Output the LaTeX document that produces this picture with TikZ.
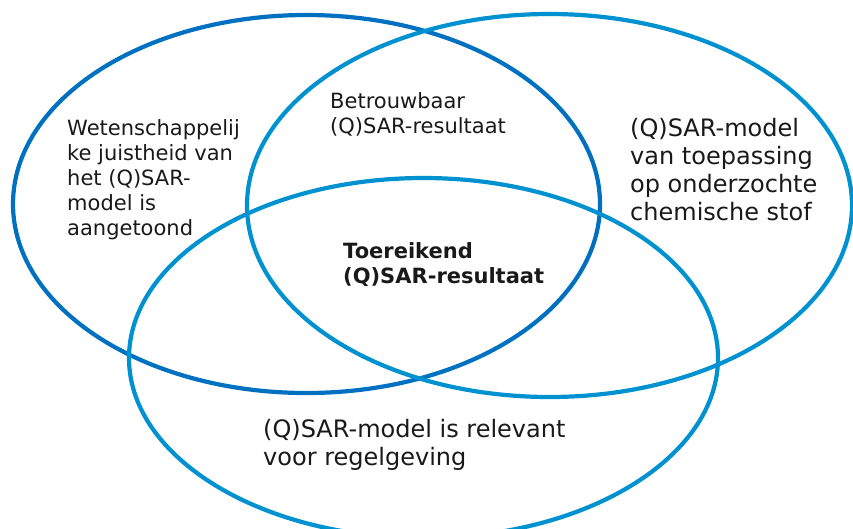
\documentclass[tikz,border=0pt]{standalone}
\usepackage{fontspec}
\setmainfont{DejaVu Sans}
\usepackage{tikz}
\definecolor{ringdark}{RGB}{0,112,192}
\definecolor{ringlight}{RGB}{0,146,208}
\tikzstyle{ring} = [line width=4.2pt]
\tikzstyle{venntext} = [anchor=base west, align=left, inner sep=0pt, text=black!90]
\tikzstyle{smalltext} = [venntext, font=\fontsize{21pt}{25pt}\selectfont]
\tikzstyle{bigtext} = [venntext, font=\fontsize{24pt}{28pt}\selectfont]

\begin{document}
\begin{tikzpicture}[x=1pt,y=-1pt]
\useasboundingbox (0,0) rectangle (853,528);
\clip (0,0) rectangle (853,528);

% the three sets
\draw[ring, ringdark] (306.5,204) ellipse [x radius=293.5, y radius=189];
\draw[ring, ringlight] (549.5,205.5) ellipse [x radius=302.5, y radius=191.5];
\draw[ring, ringlight] (423.5,358) ellipse [x radius=294.5, y radius=180];

% base anchor sits on the last line
\node[smalltext] (science) at (67,235) {Wetenschappelij\\ke juistheid van\\het (Q)SAR-\\model is\\aangetoond};
\node[smalltext] (reliable) at (330,133) {Betrouwbaar\\(Q)SAR-resultaat};
\node[smalltext, font=\fontsize{21pt}{25pt}\selectfont\bfseries] (adequate) at (343,283) {Toereikend\\(Q)SAR-resultaat};
\node[bigtext] (applicable) at (630,220) {(Q)SAR-model\\van toepassing\\op onderzochte\\chemische stof};
\node[bigtext] (relevant) at (263,465) {(Q)SAR-model is relevant\\voor regelgeving};
\end{tikzpicture}
\end{document}
